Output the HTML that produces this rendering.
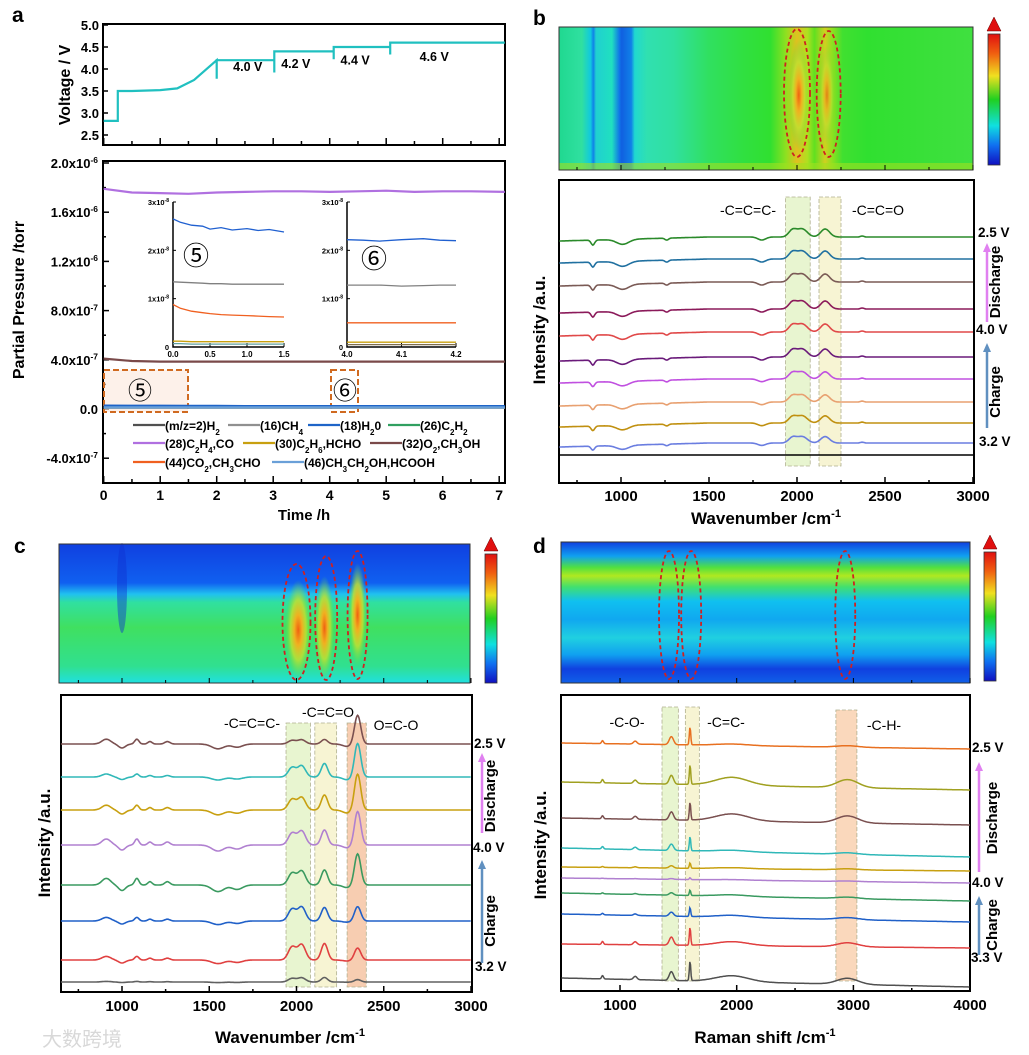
<!DOCTYPE html>
<html><head><meta charset="utf-8">
<style>
html,body{margin:0;padding:0;background:#fff;}
svg{display:block;font-family:"Liberation Sans","Noto Sans CJK SC",sans-serif;font-weight:bold;}
</style></head>
<body>
<svg id="fig" xmlns="http://www.w3.org/2000/svg" width="1029" height="1055" viewBox="0 0 1029 1055">
<defs>
<linearGradient id="cbar" x1="0" y1="0" x2="0" y2="1">
<stop offset="0" stop-color="#e01010"/><stop offset="0.15" stop-color="#f06010"/><stop offset="0.32" stop-color="#f0e020"/><stop offset="0.5" stop-color="#20d020"/><stop offset="0.7" stop-color="#10e0e0"/><stop offset="0.85" stop-color="#1070f0"/><stop offset="1" stop-color="#1010c0"/>
</linearGradient>
<radialGradient id="hot"><stop offset="0" stop-color="#f06010"/><stop offset="0.3" stop-color="#f0b020"/><stop offset="0.6" stop-color="#c0e030" stop-opacity="0.85"/><stop offset="1" stop-color="#60e040" stop-opacity="0"/></radialGradient>
<linearGradient id="cvert" x1="0" y1="0" x2="0" y2="1">
<stop offset="0" stop-color="#1040e0"/><stop offset="0.28" stop-color="#1060f0"/><stop offset="0.36" stop-color="#20c0f0"/><stop offset="0.42" stop-color="#30e0a0"/><stop offset="0.6" stop-color="#40e060"/><stop offset="0.88" stop-color="#30e090"/><stop offset="1" stop-color="#20e0e0"/>
</linearGradient>
<linearGradient id="dvert" x1="0" y1="0" x2="0" y2="1">
<stop offset="0" stop-color="#1040e0"/><stop offset="0.1" stop-color="#10a0f0"/><stop offset="0.18" stop-color="#50e040"/><stop offset="0.24" stop-color="#b0e820"/><stop offset="0.32" stop-color="#40e070"/><stop offset="0.42" stop-color="#10c0f0"/><stop offset="0.55" stop-color="#10a8f0"/><stop offset="0.68" stop-color="#20d0e0"/><stop offset="0.8" stop-color="#10a0f0"/><stop offset="0.9" stop-color="#1040e0"/><stop offset="1" stop-color="#1060e8"/>
</linearGradient>
<linearGradient id="bhoriz" x1="0" y1="0" x2="1" y2="0"></linearGradient>
</defs>
<g id="root"></g>
</svg>
<script>
// ---------- DATA ----------
const vTime = [0,0.25,0.25,0.5,1.0,1.3,1.6,2.0,2.0,2.0,3.0,3.02,3.02,3.02,4.05,4.07,4.07,4.07,5.05,5.07,5.07,5.07,7.1];
const vVolt = [2.82,2.82,3.5,3.5,3.52,3.56,3.75,4.2,3.78,4.2,4.2,4.2,3.92,4.4,4.4,4.4,4.22,4.5,4.5,4.5,4.33,4.6,4.6];
const vTicks = [2.5,3.0,3.5,4.0,4.5,5.0];
const vStepLabels = ["4.0 V","4.2 V","4.4 V","4.6 V"];
const vStepT = [2.55,3.4,4.45,5.85];
const vStepV = [3.95,4.02,4.1,4.18];
const pTime = [0,0.5,1,1.5,2,2.5,3,3.5,4,4.5,5,5.5,6,6.5,7.1];
const pC2H4 = [1.79,1.76,1.755,1.75,1.76,1.765,1.77,1.77,1.765,1.77,1.775,1.765,1.77,1.77,1.765];
const pO2 = [0.41,0.39,0.385,0.385,0.385,0.385,0.385,0.385,0.385,0.385,0.385,0.385,0.385,0.385,0.385];
const pH2O = [0.026,0.025,0.025,0.024,0.024,0.023,0.023,0.023,0.022,0.022,0.022,0.022,0.022,0.022,0.022];
const pLow = [0.012,0.012,0.012,0.012,0.012,0.012,0.012,0.012,0.012,0.012,0.012,0.012,0.012,0.012,0.012];
const pTicks = [2.0,1.6,1.2,0.8,0.4,0.0,-0.4];
const pTickLabels = [["2.0x10","-6"],["1.6x10","-6"],["1.2x10","-6"],["8.0x10","-7"],["4.0x10","-7"],["0.0",""],["-4.0x10","-7"]];
const i5Time = [0,0.1,0.25,0.4,0.5,0.65,0.8,1.0,1.15,1.3,1.5];
const i5Blue = [2.65,2.58,2.52,2.5,2.44,2.47,2.42,2.45,2.41,2.43,2.38];
const i5Gray = [1.35,1.34,1.33,1.32,1.31,1.31,1.3,1.3,1.3,1.3,1.3];
const i5Orange = [0.88,0.8,0.74,0.71,0.69,0.67,0.66,0.65,0.64,0.63,0.62];
const i5Low = [0.12,0.12,0.11,0.11,0.11,0.11,0.11,0.11,0.11,0.11,0.11];
const i6Time = [4.0,4.03,4.06,4.1,4.14,4.17,4.2];
const i6Blue = [2.22,2.21,2.19,2.22,2.24,2.21,2.2];
const i6Gray = [1.28,1.28,1.28,1.26,1.27,1.28,1.28];
const i6Orange = [0.5,0.5,0.5,0.5,0.5,0.5,0.5];
const i6Low = [0.1,0.1,0.1,0.1,0.1,0.1,0.1];

const bPeakPos = [840,1010,1260,1800,1975,2030,2160,2370];
const bPeakWid = [10,35,10,22,22,28,25,10];
const bPeakAmp = [-5,-5,-2,-3,7,8,8,1];
const bBase = [237,259,282,309,332,357,379,402,423,443];
const bScale = [1,1,1,1,1,1,0.9,0.9,0.9,0.8];
const bColors = ["#2a8a2a","#2070a0","#7a5a55","#8b1a5a","#e04848","#6a1a7a","#c050e0","#e8a070","#c09010","#6a7de0"];
const bTicks = [1000,1500,2000,2500,3000];

const cPeakPos = [910,1000,1085,1160,1260,1550,1660,1975,2030,2160,2290,2350];
const cPeakWid = [25,20,12,12,15,35,30,22,22,18,25,18];
const cPeakAmp = [6,-5,6,3,3,-6,-4,12,14,15,-2,24];
const cGroup = [0,0,0,0,0,0,0,1,1,2,3,3];
const cBase = [744,777,810,845,885,921,960,982];
const cLowScale = [0.8,0.5,0.8,1.0,1.1,0.6,0.6,0.1];
const cAllene = [0.3,0.8,0.9,1.0,1.0,1.0,1.1,0.3];
const cKetene = [0.3,0.9,1.0,1.0,1.0,0.9,1.1,0.3];
const cCO2 = [1.2,1.4,1.5,1.4,1.3,0.6,0.5,0.1];
const cColors = ["#7a5050","#30b8b8","#c8a010","#b080d0","#3a9a60","#2060c8","#e04040","#606060"];

const dPeakPos = [850,1130,1440,1600,1960,2950];
const dPeakWid = [8,15,18,6,140,90];
const dPeakAmp = [3,3,8,18,5,5];
const dBaseStart = [743,782,818,848,867,878,893,914,944,978];
const dBaseEnd = [749,790,825,857,871,883,901,922,948,987];
const dScale = [1,1.1,1,0.8,0.3,0.1,0.3,0.5,1,1.1];
const dBroad = [0.3,1.6,1.4,0.3,0.2,0.1,0.3,0.4,0.8,1.2];
const dColors = ["#e87020","#a0a020","#7a5050","#30b8b8","#c8a010","#b080d0","#3a9a60","#2060c8","#e04040","#505050"];
const dTicks = [1000,2000,3000,4000];

// ---------- HELPERS ----------
const NS = "http://www.w3.org/2000/svg";
const root = document.getElementById("root");
function mk(tag, attrs, parent){
  const e = document.createElementNS(NS, tag);
  for (const k in attrs) e.setAttribute(k, attrs[k]);
  (parent||root).appendChild(e);
  return e;
}
function nm(e, n){
  
  
  return e;
}
function txt(x,y,s,size,anchor,name,extra){
  const t = mk("text", Object.assign({x:x,y:y,"font-size":size,"text-anchor":anchor||"start"}, extra||{}));
  t.textContent = s;
  nm(t, name);
  return t;
}
function supTxt(x,y,main,sup,size,anchor,name,extra){
  const t = mk("text", Object.assign({x:x,y:y,"font-size":size,"text-anchor":anchor||"start"}, extra||{}));
  const a = mk("tspan", {}, t); a.textContent = main;
  if (sup){ const b = mk("tspan", {dy:-size*0.4,"font-size":size*0.65}, t); b.textContent = sup; }
  nm(t, name);
  return t;
}
function gauss(x, pos, wid, amp, sc){
  let s = 0;
  for (let i=0;i<pos.length;i++){ s += amp[i]*sc(i)*Math.exp(-0.5*Math.pow((x-pos[i])/wid[i],2)); }
  return s;
}
function polyPath(xs, ys){
  let d = "";
  for (let i=0;i<xs.length;i++) d += (i?"L":"M")+xs[i].toFixed(1)+","+ys[i].toFixed(1);
  return d;
}

// ---------- PANEL A ----------
const aX = t => 103.7 + t*56.5;
const vY = v => 135 - (v-2.5)*44;
nm(mk("rect",{x:103,y:24,width:402,height:121,fill:"none",stroke:"#000","stroke-width":2}),"voltage-plot-frame");
for (let i=0;i<vTicks.length;i++){
  nm(mk("line",{x1:103,x2:108,y1:vY(vTicks[i]),y2:vY(vTicks[i]),stroke:"#000","stroke-width":1.5}),"voltage-y-tick");
  txt(99, vY(vTicks[i])+5, vTicks[i].toFixed(1), 13, "end", "voltage-y-tick-label");
}
for (let t=0;t<=7;t+=0.5){
  nm(mk("line",{x1:aX(t),x2:aX(t),y1:145,y2:t%1?141:138,stroke:"#000","stroke-width":1.5}),"voltage-x-tick");
}
nm(mk("path",{d:polyPath(vTime.map(aX), vVolt.map(vY)),fill:"none",stroke:"#20c0c0","stroke-width":2.2}),"voltage-curve");
for (let i=0;i<vStepLabels.length;i++) txt(aX(vStepT[i]), vY(vStepV[i]), vStepLabels[i], 12.5, "middle", "voltage-step-label");
txt(0,0,"Voltage / V",16,"middle","voltage-y-title",{transform:"translate(70,85) rotate(-90)"});

const pY = v => 409 - v*123;
nm(mk("rect",{x:103,y:161,width:402,height:322,fill:"none",stroke:"#000","stroke-width":2}),"pressure-plot-frame");
for (let i=0;i<pTicks.length;i++){
  nm(mk("line",{x1:103,x2:109,y1:pY(pTicks[i]),y2:pY(pTicks[i]),stroke:"#000","stroke-width":1.5}),"pressure-y-tick");
  nm(mk("line",{x1:103,x2:106,y1:pY(pTicks[i]-0.2),y2:pY(pTicks[i]-0.2),stroke:"#000","stroke-width":1.5}),"pressure-y-minor-tick");
  supTxt(98, pY(pTicks[i])+5, pTickLabels[i][0], pTickLabels[i][1], 13, "end", "pressure-y-tick-label");
}
for (let t=0;t<=7;t+=0.5){
  nm(mk("line",{x1:aX(t),x2:aX(t),y1:483,y2:t%1?479:476,stroke:"#000","stroke-width":1.5}),"pressure-x-tick");
  if (t%1===0) txt(aX(t), 500, String(t), 14, "middle", "time-tick-label");
}
txt(304, 520, "Time /h", 15, "middle", "time-axis-title");
txt(0,0,"Partial Pressure /torr",16,"middle","pressure-y-title",{transform:"translate(24,300) rotate(-90)"});
nm(mk("rect",{x:104,y:370,width:84,height:42,fill:"#fbe8dc","fill-opacity":0.6,stroke:"#d06a20","stroke-width":2,"stroke-dasharray":"6,3"}),"zoom-box-5");
nm(mk("rect",{x:331,y:370,width:27,height:42,fill:"none",stroke:"#d06a20","stroke-width":2,"stroke-dasharray":"6,3"}),"zoom-box-6");
txt(140,399,"⑤",24,"middle","zoom-marker-5",{"font-weight":"normal"});
txt(345,399,"⑥",24,"middle","zoom-marker-6",{"font-weight":"normal"});
const pSeries = [[pC2H4,"#b070e0","c2h4-co-line"],[pO2,"#7a4a4a","o2-ch3oh-line"],[pLow,"#c8a010","low-gas-line"],[pLow,"#808080","ch4-line"],[pH2O,"#1e64c8","h2o-line"],[pLow,"#6aa0d8","ethanol-line"]];
for (const s of pSeries){
  nm(mk("path",{d:polyPath(pTime.map(aX), s[0].map(pY)),fill:"none",stroke:s[1],"stroke-width":s[0]===pLow||s[0]===pH2O?2.5:2.2}),s[2]);
}
function inset(x0,x1,tmin,tmax,times,series,ticks,name){
  const ix = t => x0 + (t-tmin)/(tmax-tmin)*(x1-x0);
  const iy = v => 347 - v*(145/3);
  const g = nm(mk("g",{}),name);
  nm(mk("rect",{x:x0,y:202,width:x1-x0,height:145,fill:"#fff"},g),"inset-bg");
  nm(mk("path",{d:`M${x0},202L${x0},347L${x1},347`,fill:"none",stroke:"#000","stroke-width":1.5},g),"inset-axes");
  for (let v=0;v<=3;v++){
    nm(mk("line",{x1:x0,x2:x0+3,y1:iy(v),y2:iy(v),stroke:"#000"},g),"inset-y-tick");
    const t = mk("text",{x:x0-4,y:iy(v)+3,"font-size":7.5,"text-anchor":"end"},g);
    t.textContent = v===0?"0":v+"x10"; nm(t,"inset-y-tick-label");
    if (v){ const s = mk("tspan",{dy:-3,"font-size":5},t); s.textContent="-8"; }
  }
  for (const tv of ticks){
    nm(mk("line",{x1:ix(tv),x2:ix(tv),y1:347,y2:343,stroke:"#000"},g),"inset-x-tick");
    const t = mk("text",{x:ix(tv),y:357,"font-size":8,"text-anchor":"middle"},g);
    t.textContent = tv.toFixed(1); nm(t,"inset-x-tick-label");
  }
  for (const s of series) nm(mk("path",{d:polyPath(times.map(ix), s[0].map(iy)),fill:"none",stroke:s[1],"stroke-width":1.3},g),"inset-line");
  return g;
}
inset(173,284,0,1.5,i5Time,[[i5Blue,"#2060d0"],[i5Gray,"#808080"],[i5Orange,"#f06020"],[i5Low,"#c8a010"],[i5Low.map(v=>v-0.05),"#60a0a0"]],[0,0.5,1.0,1.5],"inset-5");
inset(347,456,4.0,4.2,i6Time,[[i6Blue,"#2060d0"],[i6Gray,"#808080"],[i6Orange,"#f06020"],[i6Low,"#c8a010"],[i6Low.map(v=>v-0.05),"#807050"]],[4.0,4.1,4.2],"inset-6");
txt(196,265,"⑤",26,"middle","inset-marker-5",{"font-weight":"normal"});
txt(374,268,"⑥",26,"middle","inset-marker-6",{"font-weight":"normal"});
const legItems = [
 [133,425,"#505050",[["(m/z=2)H",""],["2","s"]]],[228,425,"#909090",[["(16)CH",""],["4","s"]]],[308,425,"#1e64c8",[["(18)H",""],["2","s"],["0",""]]],[388,425,"#30a060",[["(26)C",""],["2","s"],["H",""],["2","s"]]],
 [133,443,"#b070e0",[["(28)C",""],["2","s"],["H",""],["4","s"],[",CO",""]]],[243,443,"#c8a010",[["(30)C",""],["2","s"],["H",""],["6","s"],[",HCHO",""]]],[370,443,"#7a4a4a",[["(32)O",""],["2","s"],[",CH",""],["3","s"],["OH",""]]],
 [133,462,"#f06020",[["(44)CO",""],["2","s"],[",CH",""],["3","s"],["CHO",""]]],[272,462,"#6aa0d8",[["(46)CH",""],["3","s"],["CH",""],["2","s"],["OH,HCOOH",""]]]
];
for (const it of legItems){
  const g = nm(mk("g",{}),"legend-entry");
  nm(mk("line",{x1:it[0],x2:it[0]+32,y1:it[1],y2:it[1],stroke:it[2],"stroke-width":2.2},g),"legend-swatch");
  const t = mk("text",{x:it[0]+32,y:it[1]+5,"font-size":12},g);
  nm(t,"legend-label");
  for (const p of it[3]){
    const s = mk("tspan",p[1]==="s"?{"font-size":8,"baseline-shift":"sub"}:{},t); s.textContent = p[0];
  }
}
txt(12,22,"a",21,"start","panel-label-a");

// ---------- SPECTRA GENERIC ----------
function colorbar(x,y0,y1,name){
  const g = nm(mk("g",{}),name);
  nm(mk("polygon",{points:`${x-1},${y0-3} ${x+13},${y0-3} ${x+6},${y0-17}`,fill:"#e01010",stroke:"#600","stroke-width":0.5},g),"colorbar-extend-arrow");
  nm(mk("rect",{x:x,y:y0,width:12,height:y1-y0,fill:"url(#cbar)",stroke:"#333","stroke-width":0.8},g),"colorbar");
}
function dashEll(cx,cy,rx,ry){
  nm(mk("ellipse",{cx:cx,cy:cy,rx:rx,ry:ry,fill:"none",stroke:"#d02020","stroke-width":1.8,"stroke-dasharray":"4,3"}),"highlight-ellipse");
}
function xAxis(xs, ticks, minor, y, labelY, heatY, name){
  for (const t of ticks){
    nm(mk("line",{x1:xs(t),x2:xs(t),y1:y,y2:y-6,stroke:"#000","stroke-width":1.5}),"x-tick");
    if (heatY) nm(mk("line",{x1:xs(t),x2:xs(t),y1:heatY,y2:heatY-5,stroke:"#000","stroke-width":1}),"heatmap-x-tick");
    txt(xs(t), labelY, String(t), 15, "middle", name+"-x-tick-label");
  }
  for (const t of minor){
    nm(mk("line",{x1:xs(t),x2:xs(t),y1:y,y2:y-3,stroke:"#000","stroke-width":1.5}),"x-minor-tick");
    if (heatY) nm(mk("line",{x1:xs(t),x2:xs(t),y1:heatY,y2:heatY-3,stroke:"#000","stroke-width":1}),"heatmap-x-minor-tick");
  }
}
function band(x0,x1,y0,y1,fill,op,name){
  nm(mk("rect",{x:x0,y:y0,width:x1-x0,height:y1-y0,fill:fill,"fill-opacity":op,stroke:"#b0b090","stroke-width":0.8,"stroke-dasharray":"4,2"}),name);
}
function rLabel(x,y,s){ txt(x,y,s,13.5,"start","voltage-label"); }
function arrows(x,y0,y1,y2,y3,px,pyD,pyC){
  nm(mk("line",{x1:x,x2:x,y1:y0,y2:y1+8,stroke:"#e080f0","stroke-width":2.5}),"discharge-arrow");
  nm(mk("polygon",{points:`${x-4},${y1+9} ${x+4},${y1+9} ${x},${y1}`,fill:"#e080f0"}),"discharge-arrowhead");
  nm(mk("line",{x1:x,x2:x,y1:y2,y2:y3+8,stroke:"#6090c0","stroke-width":2.5}),"charge-arrow");
  nm(mk("polygon",{points:`${x-4},${y3+9} ${x+4},${y3+9} ${x},${y3}`,fill:"#6090c0"}),"charge-arrowhead");
  txt(0,0,"Discharge",15,"middle","discharge-label",{transform:`translate(${px},${pyD}) rotate(-90)`});
  txt(0,0,"Charge",15,"middle","charge-label",{transform:`translate(${px},${pyC}) rotate(-90)`});
}

// ---------- PANEL B ----------
const bx = w => 621 + (w-1000)*0.176;
const bHeatPos = [650,780,830,845,860,950,995,1005,1060,1080,1150,1300,1500,1700,1850,1940,2000,2060,2100,2160,2200,2260,2400,3000];
const bHeatCol = ["#20d890","#30e0a0","#10c8e0","#1080e8","#20d0d0","#20e0c0","#1070e8","#1060e0","#1080e8","#20d8d0","#30e0b0","#30e0a0","#30e060","#30e040","#30e030","#90e020","#e0c020","#b0e020","#60e020","#d0d020","#90e020","#40e030","#30e030","#40e040"];
const bg = document.getElementById("bhoriz");
for (let i=0;i<bHeatPos.length;i++){ const s = mk("stop",{offset:((bHeatPos[i]-650)/2350).toFixed(4),"stop-color":bHeatCol[i]},bg); nm(s,"gradient-stop"); }
nm(mk("rect",{x:559,y:27,width:414,height:143,fill:"url(#bhoriz)"}),"heatmap-b");
nm(mk("rect",{x:559,y:163,width:414,height:7,fill:"#a0e020","fill-opacity":0.6}),"heatmap-b-bottom-strip");
nm(mk("ellipse",{cx:bx(2010),cy:95,rx:10,ry:55,fill:"url(#hot)"}),"heatmap-b-hotspot");
nm(mk("ellipse",{cx:bx(2170),cy:95,rx:8,ry:50,fill:"url(#hot)","fill-opacity":0.7}),"heatmap-b-hotspot");
nm(mk("rect",{x:559,y:27,width:414,height:143,fill:"none",stroke:"#333","stroke-width":1}),"heatmap-b-frame");
dashEll(bx(2000),93,13,64); dashEll(bx(2180),94,12,63);
colorbar(988,34,165,"colorbar-b");
nm(mk("rect",{x:559,y:180,width:415,height:303,fill:"none",stroke:"#000","stroke-width":2}),"spectrum-b-frame");
band(bx(1935),bx(2075),197,466,"#d8efb0",0.6,"band-allene");
band(bx(2125),bx(2250),197,466,"#f4efc0",0.7,"band-ketene");
for (let k=0;k<bBase.length;k++){
  const xs=[], ys=[];
  for (let w=650; w<=3000; w+=5){
    xs.push(bx(w));
    const rise = w<1500 ? (w-650)/850*4 : 4;
    ys.push(bBase[k] + 4 - rise - gauss(w,bPeakPos,bPeakWid,bPeakAmp,()=>bScale[k]));
  }
  nm(mk("path",{d:polyPath(xs,ys),fill:"none",stroke:bColors[k],"stroke-width":1.6}),"spectrum-b-trace");
}
nm(mk("line",{x1:559,x2:974,y1:455,y2:455,stroke:"#000","stroke-width":1.5}),"spectrum-b-base-line");
xAxis(bx,bTicks,[750,1250,1750,2250,2750],483,501,170,"b");
supTxt(766,524,"Wavenumber /cm","-1",17,"middle","b-x-title");
txt(748,215,"-C=C=C-",14,"middle","label-allene-b",{"font-weight":"normal"});
txt(878,215,"-C=C=O",14,"middle","label-ketene-b",{"font-weight":"normal"});
rLabel(978,237,"2.5 V"); rLabel(976,334,"4.0 V"); rLabel(979,446,"3.2 V");
arrows(987,322,243,428,343,1000,282,392);
txt(0,0,"Intensity /a.u.",17,"middle","b-y-title",{transform:"translate(545,330) rotate(-90)"});
txt(533,25,"b",21,"start","panel-label-b");

// ---------- PANEL C ----------
const cx = w => 122 + (w-1000)*0.1745;
nm(mk("rect",{x:59,y:544,width:411,height:139,fill:"url(#cvert)"}),"heatmap-c");
nm(mk("ellipse",{cx:cx(1000),cy:588,rx:5,ry:45,fill:"#1030d0","fill-opacity":0.45}),"heatmap-c-blue-feature");
nm(mk("ellipse",{cx:cx(2010),cy:630,rx:13,ry:50,fill:"url(#hot)"}),"heatmap-c-hotspot");
nm(mk("ellipse",{cx:cx(2160),cy:628,rx:10,ry:52,fill:"url(#hot)"}),"heatmap-c-hotspot");
nm(mk("ellipse",{cx:cx(2350),cy:615,rx:9,ry:52,fill:"url(#hot)"}),"heatmap-c-hotspot");
nm(mk("rect",{x:59,y:544,width:411,height:139,fill:"none",stroke:"#333","stroke-width":1}),"heatmap-c-frame");
dashEll(cx(2000),622,14,58); dashEll(cx(2170),618,11,62); dashEll(cx(2350),615,10,64);
colorbar(485,554,683,"colorbar-c");
nm(mk("rect",{x:61,y:695,width:411,height:297,fill:"none",stroke:"#000","stroke-width":2}),"spectrum-c-frame");
band(cx(1940),cx(2080),723,987,"#d8efb0",0.6,"band-allene-c");
band(cx(2105),cx(2230),723,987,"#f4efc0",0.7,"band-ketene-c");
band(cx(2290),cx(2400),723,987,"#f4b890",0.7,"band-co2-c");
for (let k=0;k<cBase.length;k++){
  const xs=[], ys=[];
  const grpScale = [cLowScale[k],cAllene[k],cKetene[k],cCO2[k]];
  for (let w=650; w<=3000; w+=4){
    xs.push(cx(w));
    ys.push(cBase[k] - gauss(w,cPeakPos,cPeakWid,cPeakAmp,i=>grpScale[cGroup[i]]));
  }
  nm(mk("path",{d:polyPath(xs,ys),fill:"none",stroke:cColors[k],"stroke-width":1.6}),"spectrum-c-trace");
}
xAxis(cx,bTicks,[750,1250,1750,2250,2750],992,1011,683,"c");
supTxt(290,1043,"Wavenumber /cm","-1",17,"middle","c-x-title");
txt(252,728,"-C=C=C-",14,"middle","label-allene-c",{"font-weight":"normal"});
txt(328,717,"-C=C=O",14,"middle","label-ketene-c",{"font-weight":"normal"});
txt(396,730,"O=C-O",14,"middle","label-co2-c",{"font-weight":"normal"});
rLabel(474,748,"2.5 V"); rLabel(473,852,"4.0 V"); rLabel(475,971,"3.2 V");
arrows(482,833,753,963,860,495,796,921);
txt(0,0,"Intensity /a.u.",17,"middle","c-y-title",{transform:"translate(50,843) rotate(-90)"});
txt(14,553,"c",21,"start","panel-label-c");
txt(42,1046,"大数跨境",20,"start","watermark",{fill:"#d8d8d8","font-weight":"normal"});

// ---------- PANEL D ----------
const dx = w => 620 + (w-1000)*0.1167;
nm(mk("rect",{x:561,y:542,width:409,height:141,fill:"url(#dvert)"}),"heatmap-d");
nm(mk("rect",{x:561,y:542,width:409,height:141,fill:"none",stroke:"#333","stroke-width":1}),"heatmap-d-frame");
dashEll(dx(1420),615,10,64); dashEll(dx(1610),615,10,64); dashEll(dx(2930),615,10,64);
colorbar(984,552,681,"colorbar-d");
nm(mk("rect",{x:561,y:695,width:409,height:296,fill:"none",stroke:"#000","stroke-width":2}),"spectrum-d-frame");
band(dx(1360),dx(1500),707,981,"#d8efb0",0.6,"band-co-d");
band(dx(1560),dx(1680),707,981,"#f4efc0",0.7,"band-cc-d");
band(dx(2850),dx(3030),710,981,"#f8c8a0",0.7,"band-ch-d");
for (let k=0;k<dBaseStart.length;k++){
  const xs=[], ys=[];
  for (let w=500; w<=4000; w+=6){
    xs.push(dx(w));
    const base = dBaseStart[k] + (dBaseEnd[k]-dBaseStart[k])*(w-500)/3500;
    ys.push(base - gauss(w,dPeakPos,dPeakWid,dPeakAmp,i=>(i>=4?dBroad[k]:dScale[k])));
  }
  nm(mk("path",{d:polyPath(xs,ys),fill:"none",stroke:dColors[k],"stroke-width":1.5}),"spectrum-d-trace");
}
xAxis(dx,dTicks,[1500,2500,3500],991,1010,683,"d");
supTxt(765,1043,"Raman shift /cm","-1",17,"middle","d-x-title");
txt(627,727,"-C-O-",14,"middle","label-co-d",{"font-weight":"normal"});
txt(726,727,"-C=C-",14,"middle","label-cc-d",{"font-weight":"normal"});
txt(884,730,"-C-H-",14,"middle","label-ch-d",{"font-weight":"normal"});
rLabel(972,752,"2.5 V"); rLabel(972,887,"4.0 V"); rLabel(971,962,"3.3 V");
arrows(979,872,762,955,896,997,818,925);
txt(0,0,"Intensity /a.u.",17,"middle","d-y-title",{transform:"translate(546,845) rotate(-90)"});
txt(533,553,"d",21,"start","panel-label-d");
</script>
</body></html>
